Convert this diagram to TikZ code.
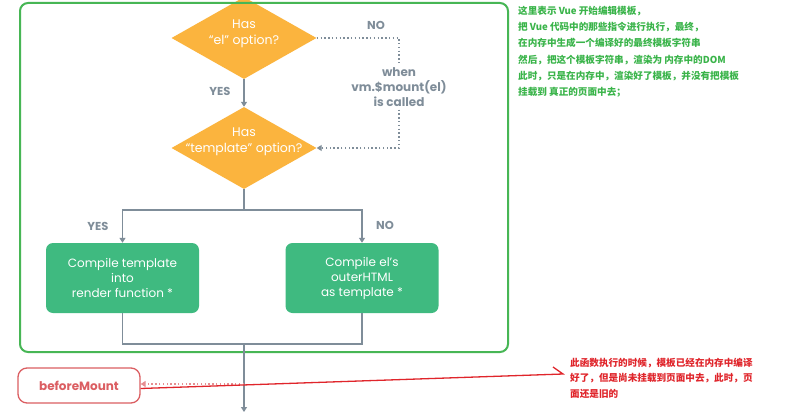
\documentclass[tikz,border=0pt]{standalone}
\usepackage{fontspec}
\setmainfont{Poppins}
\newfontfamily\cjk{Noto Sans CJK SC}
\usetikzlibrary{shapes.geometric,arrows.meta}
\definecolor{orng}{HTML}{FBB43E}
\definecolor{vgreen}{HTML}{3FBA80}
\definecolor{framegreen}{HTML}{47B655}
\definecolor{lgray}{HTML}{7F8D99}
\definecolor{cgreen}{HTML}{3AB44A}
\definecolor{cred}{HTML}{E0252B}
\definecolor{bmred}{HTML}{DB5E62}
\begin{document}
\begin{tikzpicture}[x=1pt,y=-1pt,
  dia/.style={shape=diamond, fill=orng, minimum width=145pt, minimum height=82pt, inner sep=0pt},
  dtext/.style={text=white, align=center, font=\fontsize{12.5}{15.5}\selectfont},
  gbox/.style={fill=vgreen, rounded corners=7pt, minimum width=153pt, minimum height=70pt, text=white, align=center, font=\fontsize{12}{15}\selectfont, inner sep=0pt},
  conn/.style={draw=lgray, line width=1.4pt},
  tip/.style={-{Triangle[width=6pt,length=5pt]}},
  dotc/.style={draw=lgray, line width=1.4pt, dash pattern=on 1.4pt off 2.4pt},
  lbl/.style={text=lgray, font=\bfseries\fontsize{11.5}{14}\selectfont},
  note/.style={font=\cjk\bfseries\fontsize{9.6}{16.2}\selectfont, align=left, inner sep=0pt, anchor=north west}
]
\useasboundingbox (0,0) rectangle (802,412);
\fill[white] (0,0) rectangle (802,412);

% diamonds
\node[dia] (d1) at (244,38) {};
\node[dtext] (d1t) at (244,34) {Has\\“el” option?};
\node[dia] (d2) at (244,148) {};
\node[dtext] (d2t) at (244,142) {Has\\“template” option?};

% frame
\node[draw=framegreen, line width=2pt, rounded corners=8pt, minimum width=488pt, minimum height=349pt, inner sep=0pt] (frame) at (264,177.5) {};

% boxes
\node[gbox] (b1) at (122.5,278) {Compile template\\into\\render function *};
\node[gbox] (b2) at (362,278) {Compile el’s\\outerHTML\\as template *};

% labels
\node[lbl] (yes1) at (220,91) {YES};
\node[lbl] (no1) at (376,25) {NO};
\node[lbl] (yes2) at (98,226) {YES};
\node[lbl] (no2) at (385,225) {NO};
\node[text=lgray, align=center, font=\bfseries\fontsize{12}{15}\selectfont, inner sep=3pt] (when) at (399,87) {when\\vm.\$mount(el)\\is called};

% connectors
\draw[conn,tip] (d1.south) -- (d2.north);
\draw[dotc] (d1.east) -| (when.north);
\draw[dotc,tip] (when.south) |- (d2.east);
\coordinate (split) at (244,210);
\draw[conn] (d2.south) -- (split);
\draw[conn,tip] (split) -| (b1.north);
\draw[conn,tip] (split) -| (b2.north);
\coordinate (join) at (244,344);
\draw[conn] (b1.south) |- (join);
\draw[conn] (b2.south) |- (join);
\coordinate (bot) at (244,412);
\draw[conn,tip] (join) -- (bot);

% beforeMount
\node[draw=bmred, line width=1.3pt, rounded corners=9pt, minimum width=122pt, minimum height=35pt, text=bmred, font=\bfseries\fontsize{12}{14}\selectfont] (bm) at (79,385.5) {beforeMount};
\coordinate (tap) at (244,384);
\draw[dotc,draw=bmred!70,tip] (tap) -- (tap -| bm.east);

% red annotation arrow
\coordinate (rend) at (563,374);
\coordinate (rbarb) at (553,367);
\draw[cred, line width=1.3pt] ([yshift=-3pt]bm.east) -- (rend) -- (rbarb);

% notes
\node[note, text=cgreen] (gnote) at (518,6) {这里表示 Vue 开始编辑模板，\\把 Vue 代码中的那些指令进行执行，最终，\\在内存中生成一个编译好的最终模板字符串\\然后，把这个模板字符串，渲染为 内存中的DOM\\此时，只是在内存中，渲染好了模板，并没有把模板\\挂载到 真正的页面中去；};
\node[note, text=cred, font=\cjk\bfseries\fontsize{9.6}{15.5}\selectfont] (rnote) at (570,358) {此函数执行的时候，模板已经在内存中编译\\好了，但是尚未挂载到页面中去，此时，页\\面还是旧的};
\end{tikzpicture}
\end{document}
